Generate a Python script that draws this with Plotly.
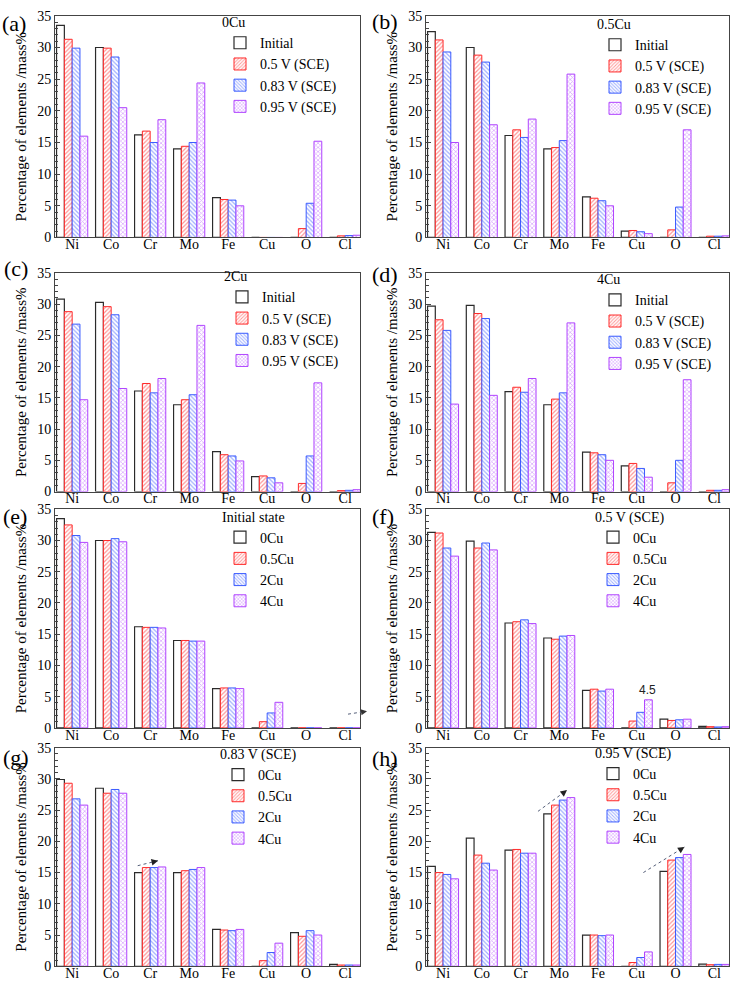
import plotly.graph_objects as go

# ---------------- data ----------------
elements = ["Ni", "Co", "Cr", "Mo", "Fe", "Cu", "O", "Cl"]
alloys = ["0Cu", "0.5Cu", "2Cu", "4Cu"]
states = ["Initial", "0.5 V (SCE)", "0.83 V (SCE)", "0.95 V (SCE)"]
state_titles = ["Initial state", "0.5 V (SCE)", "0.83 V (SCE)", "0.95 V (SCE)"]

cu0_initial = [33.5, 30.0, 16.2, 14.0, 6.3, 0.0, 0.0, 0.0]
cu0_050v = [31.3, 29.9, 16.8, 14.4, 6.0, 0.0, 1.4, 0.25]
cu0_083v = [29.9, 28.5, 15.0, 15.0, 5.9, 0.0, 5.4, 0.3]
cu0_095v = [16.0, 20.5, 18.6, 24.4, 5.0, 0.0, 15.2, 0.35]

cu05_initial = [32.5, 30.0, 16.1, 14.0, 6.4, 1.0, 0.0, 0.0]
cu05_050v = [31.2, 28.8, 17.0, 14.2, 6.2, 1.1, 1.2, 0.2]
cu05_083v = [29.3, 27.7, 15.8, 15.3, 5.8, 0.9, 4.8, 0.2]
cu05_095v = [15.0, 17.8, 18.7, 25.8, 5.0, 0.6, 17.0, 0.25]

cu2_initial = [30.8, 30.3, 16.1, 13.9, 6.4, 2.4, 0.0, 0.0]
cu2_050v = [28.8, 29.6, 17.3, 14.7, 5.9, 2.5, 1.3, 0.15]
cu2_083v = [26.8, 28.3, 15.8, 15.5, 5.7, 2.2, 5.7, 0.2]
cu2_095v = [14.7, 16.5, 18.1, 26.6, 4.9, 1.4, 17.4, 0.3]

cu4_initial = [29.7, 29.8, 16.0, 13.9, 6.3, 4.1, 0.0, 0.0]
cu4_050v = [27.5, 28.5, 16.7, 14.8, 6.2, 4.5, 1.4, 0.2]
cu4_083v = [25.8, 27.7, 15.9, 15.8, 5.9, 3.7, 5.0, 0.2]
cu4_095v = [14.0, 15.4, 18.1, 27.0, 5.0, 2.3, 17.9, 0.3]

data = {
    "0Cu": [cu0_initial, cu0_050v, cu0_083v, cu0_095v],
    "0.5Cu": [cu05_initial, cu05_050v, cu05_083v, cu05_095v],
    "2Cu": [cu2_initial, cu2_050v, cu2_083v, cu2_095v],
    "4Cu": [cu4_initial, cu4_050v, cu4_083v, cu4_095v],
}

panel_labels = ["(a)", "(b)", "(c)", "(d)", "(e)", "(f)", "(g)", "(h)"]

# ---------------- style ----------------
FONT = "Liberation Serif"
FW, FH = 733, 992
colors = ["#2b2b2b", "#FF2A2A", "#3A5BFF", "#B044FF"]
shapes = ["", "/", "\\", "x"]
AXC = "#444444"


def fx(px):
    return px / FW


def fy(py):
    return 1 - py / FH


xcols = [(55, 360), (426, 729)]
rows = [(9, 234), (270, 492), (510, 732), (752, 974)]

# legend anchor (left px, top px) per panel
leg_pos = [(220, 2), (595, 4), (222, 260), (595, 263),
           (220, 504), (593, 504), (218, 745), (593, 744)]
label_pos = [(0, 17), (370, 15), (2, 266), (370, 272),
             (1, 517), (370, 517), (1, 762), (370, 763)]

fig = go.Figure()


def marker_for(j):
    c = colors[j]
    if j == 0:
        return dict(color="white", line=dict(color=c, width=1.2))
    return dict(color="white", line=dict(color=c, width=1),
                pattern=dict(shape=shapes[j], fgcolor=c, bgcolor="white",
                             size=3, solidity=0.4))


for k in range(8):
    ax = k + 1
    legname = "legend" if k == 0 else f"legend{ax}"
    if k < 4:
        alloy = alloys[k]
        series = [(states[j], data[alloy][j]) for j in range(4)]
        title = alloy
    else:
        si = k - 4
        series = [(alloys[j], data[alloys[j]][si]) for j in range(4)]
        title = state_titles[si]
    for j, (nm, vals) in enumerate(series):
        fig.add_trace(go.Bar(
            x=elements, y=vals, name=nm,
            xaxis=f"x{ax}", yaxis=f"y{ax}", legend=legname,
            marker=marker_for(j), showlegend=True,
        ))
    col = k % 2
    row = k // 2
    x0, x1 = xcols[col]
    t, b = rows[row]
    fig.layout[f"xaxis{ax}"] = dict(
        domain=[fx(x0), fx(x1)], anchor=f"y{ax}", type="category",
        range=[-0.44, 7.38], showline=True, mirror=True, linecolor=AXC,
        linewidth=1, ticks="", showgrid=False, zeroline=False,
        ticklabelstandoff=-6,
        tickfont=dict(family=FONT, size=14, color="black"),
    )
    fig.layout[f"yaxis{ax}"] = dict(
        domain=[fy(b), fy(t)], anchor=f"x{ax}", range=[0, 35],
        tick0=0, dtick=5, ticks="inside", ticklen=5, tickcolor=AXC,
        minor=dict(ticks="inside", ticklen=3, dtick=1, tickcolor=AXC),
        showline=True, mirror=True, linecolor=AXC, linewidth=1,
        showgrid=False, zeroline=False,
        tickfont=dict(family=FONT, size=14, color="black"),
        title=dict(text="Percentage of elements /mass%",
                   font=dict(family=FONT, size=15, color="black"), standoff=6),
    )
    lx, ly = leg_pos[k]
    fig.layout[legname] = dict(
        x=fx(lx), y=fy(ly), xanchor="left", yanchor="top",
        bgcolor="rgba(0,0,0,0)", borderwidth=0,
        font=dict(family=FONT, size=14, color="black"),
        title=dict(text=title, font=dict(family=FONT, size=14, color="black")),
        itemwidth=30, tracegroupgap=0,
    )
    px_, py_ = label_pos[k]
    fig.add_annotation(x=fx(px_), y=fy(py_), xref="paper", yref="paper",
                       xanchor="left", yanchor="middle", showarrow=False,
                       text=panel_labels[k],
                       font=dict(family=FONT, size=22, color="black"))

# value label in (f)
fig.add_annotation(x=5.27, y=4.7, xref="x6", yref="y6", text="4.5",
                   showarrow=False, yanchor="bottom",
                   font=dict(family="Liberation Sans", size=12, color="#222"))

# dashed trend arrows: (xref, yref, x_start, y_start, x_end, y_end, tail_px_dx, tail_px_dy)
arrows = [
    ("x7", "y7", 1.68, 16.1, 2.2, 16.9, -6.8, 1.7),
    ("x8", "y8", 2.45, 24.8, 3.2, 28.2, -5.6, 4.3),
    ("x8", "y8", 5.17, 15.0, 6.23, 19.1, -5.9, 3.8),
]
for xr, yr, xs, ys, xe, ye, tdx, tdy in arrows:
    fig.add_shape(type="line", xref=xr, yref=yr, x0=xs, y0=ys, x1=xe, y1=ye,
                  line=dict(color="#56607a", width=1, dash="dot"))
    fig.add_annotation(x=xe, y=ye, xref=xr, yref=yr, ax=tdx, ay=tdy,
                       text="", showarrow=True,
                       arrowhead=2, arrowsize=1.3, arrowwidth=1,
                       arrowcolor="#222")
# small arrow at right edge of (e)
fig.add_shape(type="line", xref="paper", yref="paper",
              x0=fx(348), y0=fy(718), x1=fx(364), y1=fy(715.5),
              line=dict(color="#56607a", width=1, dash="dot"))
fig.add_annotation(x=fx(367), y=fy(715), xref="paper", yref="paper",
                   ax=-6, ay=1, text="", showarrow=True, arrowhead=2,
                   arrowsize=1.2, arrowwidth=1, arrowcolor="#333")

fig.update_layout(
    width=FW, height=FH, margin=dict(l=0, r=0, t=0, b=0),
    paper_bgcolor="white", plot_bgcolor="white",
    barmode="group", bargap=0.2, bargroupgap=0,
    font=dict(family=FONT, size=14, color="black"),
)

fig.write_html(
    "out.html",
    config={"displayModeBar": False},
    post_script="document.body.style.margin='0';document.body.style.padding='0';document.body.style.overflow='hidden';",
)
